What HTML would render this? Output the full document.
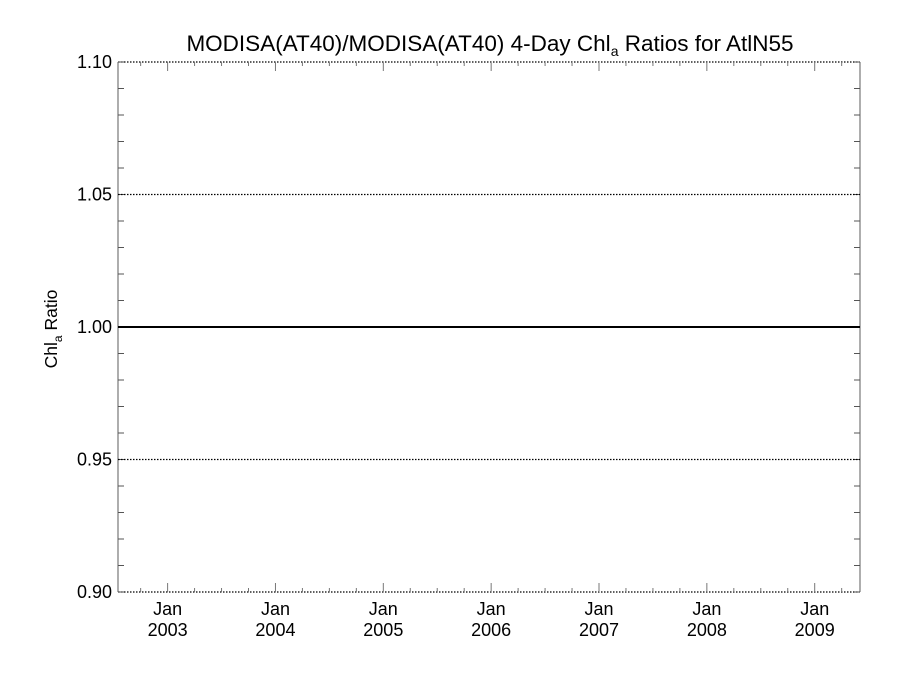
<!DOCTYPE html>
<html><head><meta charset="utf-8"><style>
body{margin:0;background:#fff}
svg text{font-family:"Liberation Sans",Arial,sans-serif;fill:#000}
</style></head><body>
<svg width="900" height="675" viewBox="0 0 900 675" xmlns="http://www.w3.org/2000/svg">
<text x="490" y="51" font-size="22.5" text-anchor="middle">MODISA(AT40)/MODISA(AT40) 4-Day Chl<tspan font-size="14" dy="5">a</tspan><tspan dy="-5"> Ratios for AtlN55</tspan></text>
<text transform="translate(57,329) rotate(-90)" font-size="17.5" text-anchor="middle">Chl<tspan font-size="12" dy="5">a</tspan><tspan dy="-5"> Ratio</tspan></text>
<g id="axes"></g>
</svg>
<script>
const yTicks=[0.90,0.95,1.00,1.05,1.10];
const yTickLabels=["0.90","0.95","1.00","1.05","1.10"];
const xYears=[2003,2004,2005,2006,2007,2008,2009];
const seriesX=[2002.54,2009.42];
const seriesY=[1.0,1.0];
const L=118,R=860,T=62,B=592,X0=2002.54,X1=2009.42,Y0=0.90,Y1=1.10;
const sx=v=>L+(v-X0)/(X1-X0)*(R-L);
const sy=v=>B-(v-Y0)/(Y1-Y0)*(B-T);
const g=document.getElementById('axes');
const NS='http://www.w3.org/2000/svg';
function ln(x1,y1,x2,y2,c,w,d){const e=document.createElementNS(NS,'line');e.setAttribute('x1',x1);e.setAttribute('y1',y1);e.setAttribute('x2',x2);e.setAttribute('y2',y2);e.setAttribute('stroke',c);e.setAttribute('stroke-width',w);if(d)e.setAttribute('stroke-dasharray',d);g.appendChild(e);return e;}
function tx(x,y,s,a){const e=document.createElementNS(NS,'text');e.setAttribute('x',x);e.setAttribute('y',y);e.setAttribute('font-size',18);e.setAttribute('text-anchor',a);e.textContent=s;g.appendChild(e);return e;}
let e;
e=ln(L,T,R,T,'#000',1.2,'1.5 1.5');


e=ln(L,B,R,B,'#000',1.2,'1.5 1.5');


e=ln(L,T,L,B,'#777',1.2);


e=ln(R,T,R,B,'#777',1.2);


for(let v=0.90;v<=1.1001;v+=0.01){const y=sy(v);ln(L,y,L+6,y,'#555',1);ln(R,y,R-6,y,'#555',1);}
yTicks.forEach((v,i)=>{const y=sy(v);
 if(i>0&&i<yTicks.length-1){e=ln(L,y,R,y,'#000',1.2,'1.5 1.5');}
 e=tx(L-6,y+6,yTickLabels[i],'end');
 
 
});
for(let yr=2002;yr<=2010;yr++){for(let q=0;q<4;q++){const v=yr+q/4;if(v<X0||v>X1)continue;const x=sx(v);const len=q==0?9:4;ln(x,B,x,B-len,'#777',1);ln(x,T,x,T+len,'#777',1);}}
xYears.forEach(yr=>{const x=sx(yr);
 e=tx(x,615,'Jan','middle');
 
 
 e=tx(x,636,String(yr),'middle');
 
 
});
e=ln(sx(seriesX[0]),sy(seriesY[0]),sx(seriesX[1]),sy(seriesY[1]),'#000',2);


</script>
</body></html>
